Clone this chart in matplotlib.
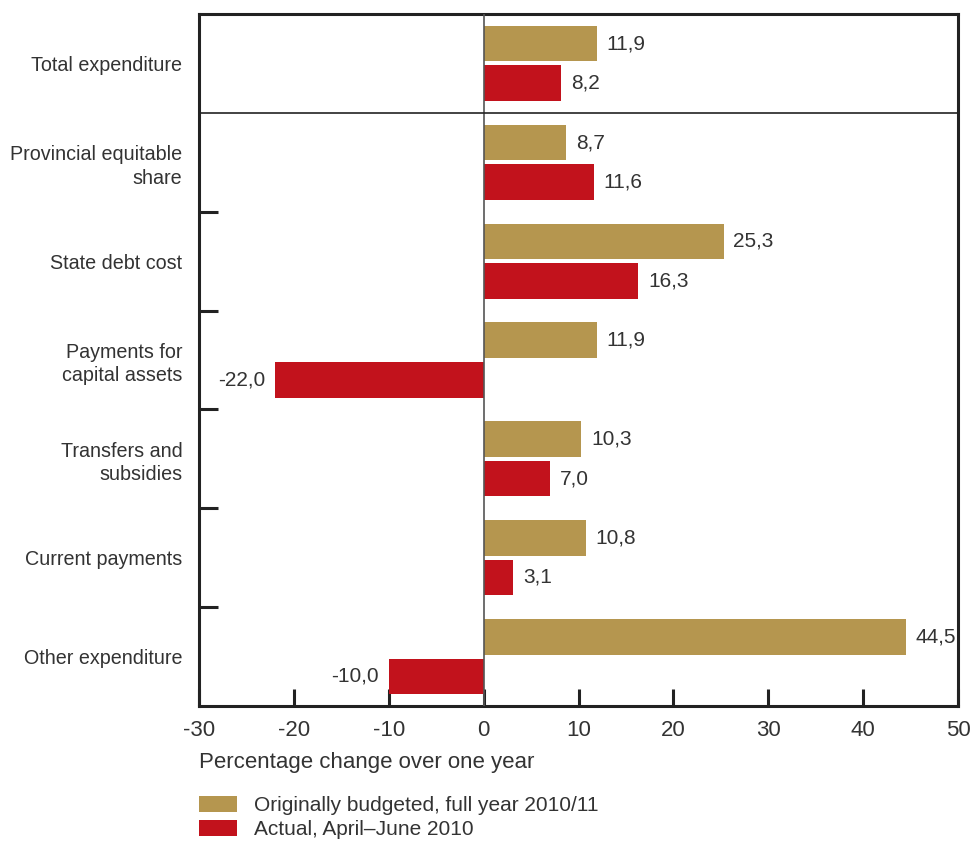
import matplotlib.pyplot as plt
import matplotlib
import numpy as np

categories = ['Total expenditure', 'Provincial equitable\nshare', 'State debt cost',
              'Payments for\ncapital assets', 'Transfers and\nsubsidies',
              'Current payments', 'Other expenditure']
budgeted = [11.9, 8.7, 25.3, 11.9, 10.3, 10.8, 44.5]
actual = [8.2, 11.6, 16.3, -22.0, 7.0, 3.1, -10.0]
legend_labels = ['Originally budgeted, full year 2010/11', 'Actual, April\u2013June 2010']

gold = '#b5964f'
red = '#c2121c'
txt = '#333333'

matplotlib.rcParams['font.family'] = ['Liberation Sans', 'DejaVu Sans']
matplotlib.rcParams['axes.unicode_minus'] = False

fig = plt.figure(figsize=(9.71, 8.41), dpi=100)
ax = fig.add_axes([199/971, 1-706/841, (958-199)/971, (706-14)/841])

y = np.arange(len(categories))
h = 0.36
b1 = ax.barh(y - 0.2, budgeted, height=h, color=gold, label=legend_labels[0], zorder=2)
b2 = ax.barh(y + 0.2, actual, height=h, color=red, label=legend_labels[1], zorder=2)

for bars, vals in ((b1, budgeted), (b2, actual)):
    for bar, v in zip(bars, vals):
        s = ('%.1f' % v).replace('.', ',')
        yc = bar.get_y() + bar.get_height() / 2
        if v >= 0:
            ax.annotate(s, (v, yc), xytext=(7, 0), textcoords='offset points',
                        ha='left', va='center', fontsize=15, color=txt)
        else:
            ax.annotate(s, (v, yc), xytext=(-7, 0), textcoords='offset points',
                        ha='right', va='center', fontsize=15, color=txt)

ax.axvline(0, color='#555555', lw=1.2, zorder=3)
ax.axhline(0.5, color='#222222', lw=1.2, zorder=3)

ax.set_xlim(-30, 50)
ax.set_ylim(6.5, -0.5)
ax.set_xticks(np.arange(-30, 51, 10))
ax.tick_params(axis='x', direction='in', length=12, width=2.2, color='#222222',
               labelsize=16, labelcolor=txt, pad=10)
ax.set_yticks(y)
ax.set_yticklabels(categories, fontsize=14.2, color=txt, linespacing=1.3)
ax.tick_params(axis='y', which='major', length=0, pad=12)
ax.set_yticks(np.arange(1.5, 6.5, 1), minor=True)
ax.tick_params(axis='y', which='minor', direction='in', length=14, width=2.2, color='#222222')

for sp in ax.spines.values():
    sp.set_linewidth(2.2)
    sp.set_color('#222222')

ax.set_xlabel('Percentage change over one year', loc='left', fontsize=16, color=txt, labelpad=8)

fig.legend(handles=[b1, b2], loc='upper left', bbox_to_anchor=(199/971, 1-796/841),
           frameon=False, fontsize=15, handlelength=1.83, handleheight=0.77,
           handletextpad=0.8, labelspacing=0.25, borderpad=0, borderaxespad=0,
           labelcolor=txt)

plt.savefig('out.png', dpi=100)
plt.close()
